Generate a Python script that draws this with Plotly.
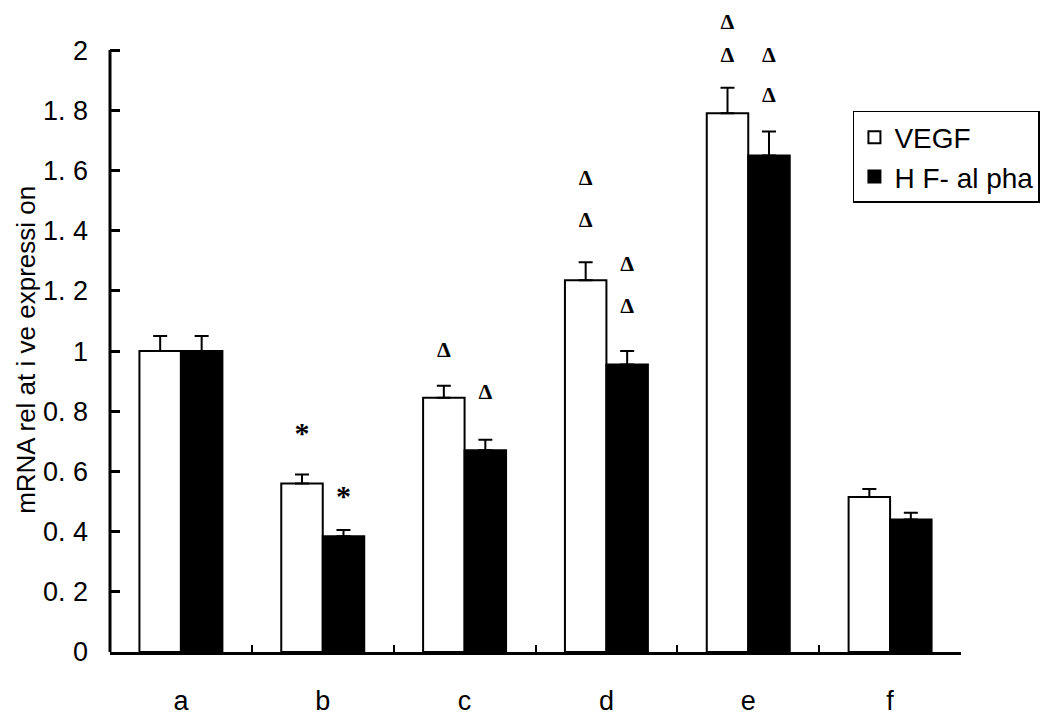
import plotly.graph_objects as go

groups = ["a", "b", "c", "d", "e", "f"]

vegf = [1.0, 0.56, 0.845, 1.235, 1.79, 0.515]
vegf_err = [0.05, 0.03, 0.04, 0.06, 0.085, 0.027]
hif = [1.0, 0.385, 0.67, 0.955, 1.65, 0.44]
hif_err = [0.05, 0.02, 0.035, 0.045, 0.08, 0.023]

# significance marks above the bars
vegf_mark_x = ["b", "c", "d", "d", "e", "e"]
vegf_mark_y = [0.72, 1.0, 1.57, 1.43, 2.09, 1.98]
vegf_mark_t = ["*", "Δ", "Δ", "Δ", "Δ", "Δ"]
hif_mark_x = ["b", "c", "d", "d", "e", "e"]
hif_mark_y = [0.51, 0.86, 1.285, 1.145, 1.98, 1.845]
hif_mark_t = ["*", "Δ", "Δ", "Δ", "Δ", "Δ"]

y_ticks = [0, 0.2, 0.4, 0.6, 0.8, 1.0, 1.2, 1.4, 1.6, 1.8, 2.0]
y_ticktext = ["0", "0. 2", "0. 4", "0. 6", "0. 8", "1",
              "1. 2", "1. 4", "1. 6", "1. 8", "2"]

sans = "Liberation Sans, Arial, sans-serif"
serif = "Liberation Serif, Times New Roman, serif"


def mark_sizes(marks):
    return [30 if m == "*" else 22 for m in marks]


fig = go.Figure()

fig.add_trace(go.Bar(
    x=groups, y=vegf, name="VEGF", offsetgroup="v",
    marker=dict(color="white", line=dict(color="black", width=2)),
    error_y=dict(type="data", array=vegf_err, arrayminus=[0] * 6,
                 symmetric=False, color="black", thickness=2, width=7),
))
fig.add_trace(go.Bar(
    x=groups, y=hif, name="H F- al pha", offsetgroup="h",
    marker=dict(color="black", line=dict(color="black", width=2)),
    error_y=dict(type="data", array=hif_err, arrayminus=[0] * 6,
                 symmetric=False, color="black", thickness=2, width=7),
))

fig.add_trace(go.Scatter(
    x=vegf_mark_x, y=vegf_mark_y, text=vegf_mark_t, mode="text",
    offsetgroup="v", showlegend=False, cliponaxis=False,
    textfont=dict(family=serif, size=mark_sizes(vegf_mark_t),
                  color="black", weight="bold"),
))
fig.add_trace(go.Scatter(
    x=hif_mark_x, y=hif_mark_y, text=hif_mark_t, mode="text",
    offsetgroup="h", showlegend=False, cliponaxis=False,
    textfont=dict(family=serif, size=mark_sizes(hif_mark_t),
                  color="black", weight="bold"),
))

# the y axis line stops at 2 while the range leaves room for the top marks
fig.add_shape(type="line", xref="paper", yref="y", x0=0, x1=0, y0=0, y1=2,
              line=dict(color="black", width=3), layer="above")

# page body adds an 8px margin, so the figure is a bit smaller than the window
fig.update_layout(
    width=1042, height=709,
    margin=dict(l=102, r=89, t=3, b=65, autoexpand=False),
    paper_bgcolor="white", plot_bgcolor="white",
    barmode="group", bargap=0.415, bargroupgap=0,
    scattermode="group", scattergap=0.415,
    font=dict(family=sans, color="black", size=26),
    legend=dict(
        x=0.873, y=0.844, xanchor="left", yanchor="top",
        bordercolor="black", borderwidth=1.5, bgcolor="white",
        font=dict(size=28), tracegroupgap=0,
    ),
    showlegend=True,
    annotations=[dict(
        text="mRNA rel at i ve expressi on", textangle=-90,
        xref="paper", yref="paper", x=-0.099, y=0.471,
        xanchor="center", yanchor="middle", showarrow=False,
        font=dict(size=26),
    )],
)

fig.update_xaxes(
    type="category", categoryorder="array", categoryarray=groups,
    showline=True, linecolor="black", linewidth=3,
    ticks="inside", tickson="boundaries", ticklen=7, tickwidth=2,
    tickcolor="black", showgrid=False, zeroline=False, automargin=False,
    tickfont=dict(size=27), ticklabelstandoff=23,
)
fig.update_yaxes(
    range=[0, 2.13], tickvals=y_ticks, ticktext=y_ticktext,
    showline=False,
    ticks="inside", ticklen=10, tickwidth=3, tickcolor="black",
    showgrid=False, zeroline=False, automargin=False,
    tickfont=dict(size=27), ticklabelstandoff=21,
)

fig.write_html("out.html")
